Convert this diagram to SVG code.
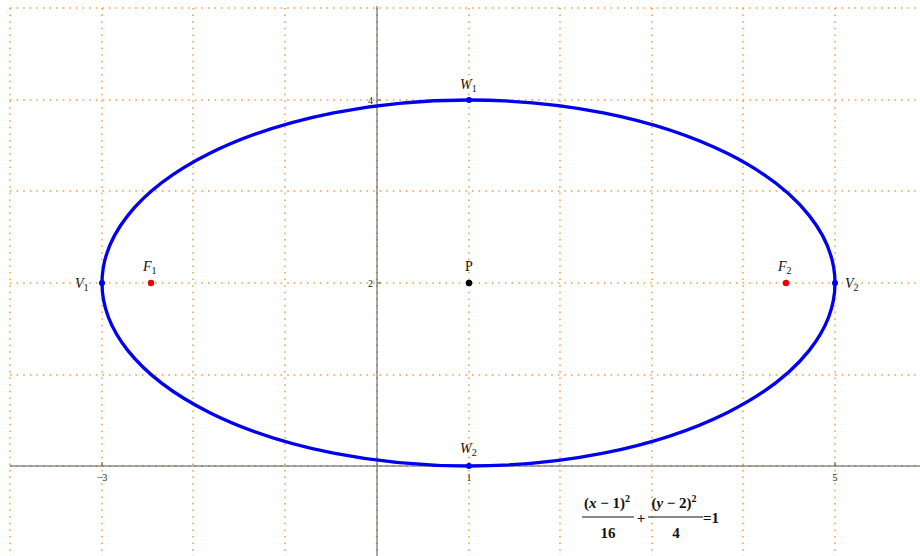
<svg xmlns="http://www.w3.org/2000/svg" width="920" height="556" viewBox="0 0 920 556">
<style>
.grid{stroke:#f39a3c;stroke-width:1.5;stroke-dasharray:1.5 5.1;fill:none}
.axis{stroke:#555;stroke-width:1;fill:none}
.tick{font-family:"Liberation Serif",serif;font-size:10px;fill:#222}
.lbl{font-family:"Liberation Serif",serif;font-size:14px;font-style:italic;fill:#111}
.sub{font-size:10px;font-style:normal}
.eq{font-family:"Liberation Serif",serif;font-size:15px;font-weight:bold;fill:#111}
</style>
<rect width="920" height="556" fill="#fff"/>
<g id="grid">
<path class="grid" d="M10,8V556M102,8V556M193,8V556M285,8V556M377,8V556M469,8V556M560,8V556M652,8V556M743,8V556M835,8V556"/>
<path class="grid" d="M10,8H918M10,100H918M10,191H918M10,283H918M10,375H918M10,466H918"/>
</g>
<g id="axes">
<line class="axis" x1="377" y1="6" x2="377" y2="556"/>
<line class="axis" x1="10" y1="466" x2="920" y2="466"/>
<path class="axis" d="M377,100h4M377,283h4M102,466v-4M469,466v-4M835,466v-4"/>
<text class="tick" x="373" y="104" text-anchor="end">4</text>
<text class="tick" x="373" y="287" text-anchor="end">2</text>
<text class="tick" x="102" y="481" text-anchor="middle">−3</text>
<text class="tick" x="469" y="481" text-anchor="middle">1</text>
<text class="tick" x="835" y="481" text-anchor="middle">5</text>
</g>
<g id="ellipse">
<ellipse cx="468.5" cy="283" rx="366.5" ry="183" fill="none" stroke="#0000ee" stroke-width="3.3"/>
</g>
<g id="V1"><circle cx="102" cy="283" r="3" fill="#0000ee"/><text class="lbl" x="75" y="288">V<tspan class="sub" dy="3">1</tspan></text></g>
<g id="V2"><circle cx="835" cy="283" r="3" fill="#0000ee"/><text class="lbl" x="845" y="288">V<tspan class="sub" dy="3">2</tspan></text></g>
<g id="W1"><circle cx="469" cy="100" r="3" fill="#0000ee"/><text class="lbl" x="460" y="89">W<tspan class="sub" dy="3">1</tspan></text></g>
<g id="W2"><circle cx="469" cy="466" r="3" fill="#0000ee"/><text class="lbl" x="460" y="453">W<tspan class="sub" dy="3">2</tspan></text></g>
<g id="P"><circle cx="469" cy="283" r="3.2" fill="#000"/><text class="lbl" x="469" y="271" text-anchor="middle" style="font-style:normal">P</text></g>
<g id="F1"><circle cx="151" cy="283" r="3.2" fill="#ee0000"/><text class="lbl" x="143" y="271">F<tspan class="sub" dy="3">1</tspan></text></g>
<g id="F2"><circle cx="786" cy="283" r="3.2" fill="#ee0000"/><text class="lbl" x="778" y="271">F<tspan class="sub" dy="3">2</tspan></text></g>
<g id="equation">
<text class="eq" x="607" y="508" text-anchor="middle">(<tspan font-style="italic">x</tspan> − 1)<tspan font-size="10" dy="-6">2</tspan></text>
<line x1="582" y1="517" x2="634" y2="517" stroke="#111" stroke-width="1"/>
<text class="eq" x="608" y="538" text-anchor="middle">16</text>
<text class="eq" x="641" y="523" text-anchor="middle" font-size="17">+</text>
<text class="eq" x="674" y="508" text-anchor="middle">(<tspan font-style="italic">y</tspan> − 2)<tspan font-size="10" dy="-6">2</tspan></text>
<line x1="648" y1="517" x2="703" y2="517" stroke="#111" stroke-width="1"/>
<text class="eq" x="676" y="538" text-anchor="middle">4</text>
<text class="eq" x="703" y="523">=1</text>
</g>
</svg>
